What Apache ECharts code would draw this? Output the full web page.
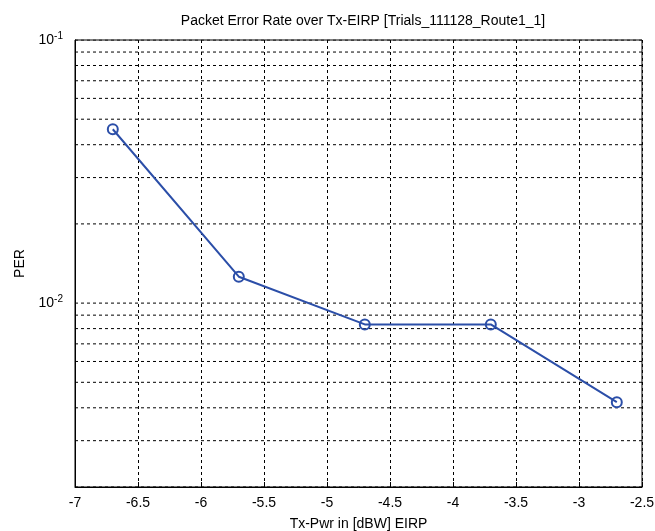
<!DOCTYPE html>
<html>
<head>
<meta charset="utf-8">
<script src="https://cdn.jsdelivr.net/npm/echarts@6/dist/echarts.min.js"></script>
<style>
  html, body { margin: 0; padding: 0; background: #fff; }
  #chart { width: 655px; height: 531px; }
</style>
</head>
<body>
<div id="chart"></div>
<script>
// data
var txPwr = [-6.7, -5.7, -4.7, -3.7, -2.7];
var per = [0.0458, 0.0126, 0.0083, 0.0083, 0.0042];
// horizontal grid lines of the log axis (1..9 x decade)
var yGrid = [0.002, 0.003, 0.004, 0.005, 0.006, 0.007, 0.008, 0.009,
             0.01, 0.02, 0.03, 0.04, 0.05, 0.06, 0.07, 0.08, 0.09, 0.1];
var yTickLabels = { '0.1': '10{sup|-1}', '0.01': '10{sup|-2}' };
var xMin = -7, xMax = -2.5;

var font = 'Liberation Sans';
var myChart = echarts.init(document.getElementById('chart'));

var series = [];
// dashed grid lines, one thin series each
for (var i = 0; i < yGrid.length; i++) {
    series.push({
        type: 'line',
        data: [[xMin, yGrid[i]], [xMax, yGrid[i]]],
        symbol: 'none',
        silent: true,
        lineStyle: { color: '#000', type: [3, 3], width: 1 },
        z: 1
    });
}
series.push({
    type: 'line',
    data: txPwr.map(function (x, i) { return [x, per[i]]; }),
    symbol: 'circle',
    symbolSize: 10,
    showAllSymbol: true,
    itemStyle: { color: 'rgba(0,0,0,0)', borderColor: '#2b4ea8', borderWidth: 2 },
    lineStyle: { color: '#2b4ea8', width: 2 },
    z: 5
});

var option = {
    animation: false,
    backgroundColor: '#fff',
    title: {
        text: 'Packet Error Rate over Tx-EIRP [Trials_111128_Route1_1]',
        left: 358,
        textAlign: 'center',
        top: 9,
        textStyle: { fontFamily: font, fontSize: 14, fontWeight: 'normal', color: '#000' }
    },
    grid: {
        left: 75, right: 13, top: 40, bottom: 44,
        outerBoundsMode: 'none',
        show: true, borderColor: '#000', borderWidth: 1
    },
    xAxis: {
        type: 'value',
        min: xMin, max: xMax, interval: 0.5,
        name: 'Tx-Pwr in [dBW] EIRP',
        nameLocation: 'middle',
        nameGap: 30,
        nameTextStyle: { fontFamily: font, fontSize: 14, color: '#000' },
        axisLine: { onZero: false, lineStyle: { color: '#000' } },
        axisTick: { inside: true, length: 5, lineStyle: { color: '#000' } },
        axisLabel: { fontFamily: font, fontSize: 14, color: '#000', margin: 9 },
        splitLine: { show: true, lineStyle: { color: '#000', type: [3, 3], width: 1 } }
    },
    yAxis: {
        type: 'log',
        logBase: 10,
        min: 0.002, max: 0.1,
        name: 'PER',
        nameLocation: 'middle',
        nameGap: 48,
        nameTextStyle: { fontFamily: font, fontSize: 14, color: '#000' },
        axisLine: { lineStyle: { color: '#000' } },
        axisTick: { show: false },
        splitLine: { show: false },
        axisLabel: {
            fontFamily: font, fontSize: 14, color: '#000', margin: 12,
            showMinLabel: false,
            formatter: function (v) {
                var key = String(Math.round(v * 1e6) / 1e6);
                return yTickLabels[key] || '';
            },
            rich: {
                sup: { fontFamily: font, fontSize: 10, color: '#000', verticalAlign: 'top', padding: [0, 0, 8, 0] }
            }
        }
    },
    series: series
};
myChart.setOption(option);
</script>
</body>
</html>
